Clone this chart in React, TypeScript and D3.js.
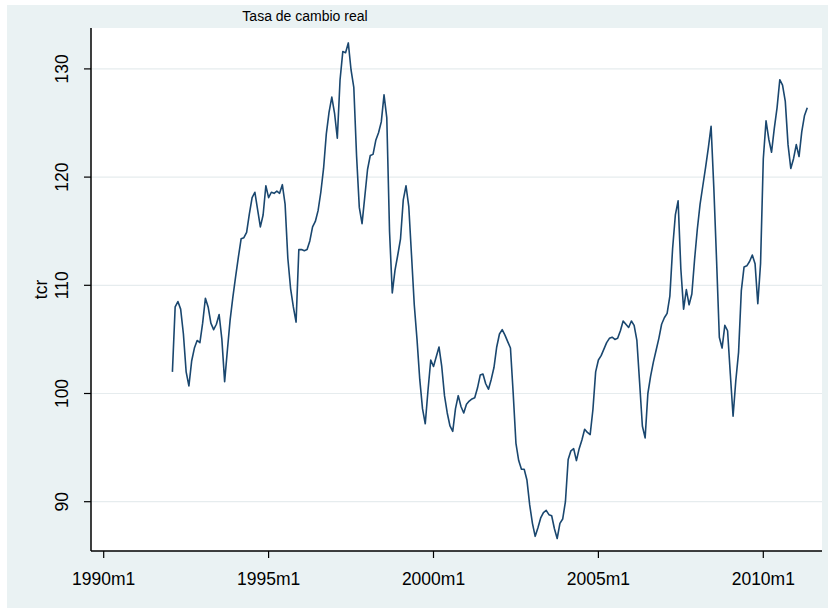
import React from "react";
import * as d3 from "d3";

// Monthly series "tcr" starting 1992m2 (months counted from 1990m1)
const startMonthIndex = 25;
const tcr: number[] = [
  102.0, 108.0, 108.5, 107.8, 105.5, 102.0, 100.7, 103.0, 104.2, 104.9,
  104.7, 106.5, 108.8, 108.0, 106.5, 105.9, 106.4, 107.3, 105.0, 101.1,
  104.0, 106.8, 108.9, 110.8, 112.6, 114.3, 114.4, 114.9, 116.6, 118.1,
  118.6, 117.0, 115.4, 116.5, 119.2, 118.1, 118.6, 118.5, 118.7, 118.5,
  119.3, 117.5, 112.5, 109.7, 108.0, 106.6, 113.3, 113.3, 113.2, 113.3,
  114.1, 115.4, 115.9, 116.9, 118.6, 120.8, 124.0, 126.0, 127.4, 125.9,
  123.6, 129.0, 131.6, 131.5, 132.4, 129.9, 128.3, 122.0, 117.2, 115.7,
  118.2, 120.7, 122.0, 122.1, 123.4, 124.1, 125.1, 127.6, 125.5, 115.0,
  109.3, 111.4, 112.8, 114.3, 117.9, 119.2, 117.3, 112.8, 108.2, 105.0,
  101.3, 98.6, 97.2, 100.3, 103.1, 102.5, 103.4, 104.3, 102.5, 99.8,
  98.2, 97.0, 96.5, 98.6, 99.8, 98.8, 98.2, 99.0, 99.3, 99.5,
  99.6, 100.5, 101.7, 101.8, 100.9, 100.4, 101.3, 102.4, 104.3, 105.5,
  105.9, 105.4, 104.8, 104.2, 100.0, 95.4, 93.8, 93.0, 93.0, 92.0,
  89.7, 88.0, 86.8, 87.6, 88.5, 89.0, 89.2, 88.8, 88.7, 87.5,
  86.6, 88.0, 88.4, 90.0, 93.9, 94.7, 94.9, 93.8, 94.9, 95.7,
  96.7, 96.4, 96.2, 98.5, 102.0, 103.1, 103.5, 104.1, 104.7, 105.1,
  105.2, 105.0, 105.1, 105.8, 106.7, 106.4, 106.1, 106.7, 106.3, 104.9,
  101.0, 97.0, 95.9, 100.0, 101.6, 102.9, 104.0, 105.1, 106.4, 107.0,
  107.4, 109.0, 113.4, 116.5, 117.8, 111.5, 107.8, 109.6, 108.2, 109.2,
  112.4, 115.2, 117.5, 119.2, 120.9, 122.7, 124.7, 119.0, 112.3, 105.2,
  104.2, 106.3, 105.8, 101.8, 97.9, 101.2, 103.8, 109.5, 111.7, 111.8,
  112.2, 112.8, 112.0, 108.3, 112.0, 121.7, 125.2, 123.5, 122.3, 124.5,
  126.4, 129.0, 128.5, 127.0, 123.0, 120.8, 121.7, 123.0, 121.9, 124.2,
  125.7, 126.4,
];

const xTickMonths = [0, 60, 120, 180, 240];
const xTickLabels = ["1990m1", "1995m1", "2000m1", "2005m1", "2010m1"];
const yTicks = [90, 100, 110, 120, 130];

const title = "Tasa de cambio real";
const yTitle = "tcr";

export default function App() {
  const W = 833;
  const H = 611;
  const plotL = 91;
  const plotR = 822;
  const plotT = 28;
  const plotB = 551;

  const x = d3.scaleLinear().domain([0, 240]).range([103.7, 763.3]);
  const y = d3.scaleLinear().domain([90, 130]).range([501.7, 68.9]);

  const pts = tcr.map((v, i) => ({ m: startMonthIndex + i, v }));
  const line = d3
    .line<{ m: number; v: number }>()
    .x((d) => x(d.m))
    .y((d) => y(d.v));

  const font = "'Liberation Sans', Arial, sans-serif";

  return (
    <div style={{ position: "absolute", left: 0, top: 0 }}>
      <svg width={W} height={H} style={{ display: "block" }}>
        <rect x={0} y={0} width={W} height={H} fill="#ffffff" />
        <rect x={7} y={5} width={821} height={603} fill="#eaf2f3" />
        <rect x={plotL} y={plotT} width={plotR - plotL} height={plotB - plotT} fill="#ffffff" />
        {yTicks.map((t) => (
          <line key={"g" + t} x1={plotL} x2={plotR} y1={y(t)} y2={y(t)} stroke="#e6ecee" strokeWidth={1.2} />
        ))}
        <path d={line(pts) || ""} fill="none" stroke="#1a476f" strokeWidth={1.6} strokeLinejoin="round" />
        <line x1={plotL} x2={plotL} y1={plotT} y2={plotB} stroke="#000" strokeWidth={1.5} />
        <line x1={plotL} x2={plotR} y1={plotB} y2={plotB} stroke="#000" strokeWidth={1.5} />
        {yTicks.map((t) => (
          <g key={"yt" + t}>
            <line x1={plotL - 7} x2={plotL} y1={y(t)} y2={y(t)} stroke="#000" strokeWidth={1.2} />
            <text
              transform={`translate(68,${y(t)}) rotate(-90)`}
              textAnchor="middle"
              fontFamily={font}
              fontSize={17.5}
              fill="#000"
            >
              {t}
            </text>
          </g>
        ))}
        {xTickMonths.map((m, i) => (
          <g key={"xt" + m}>
            <line x1={x(m)} x2={x(m)} y1={plotB} y2={plotB + 7} stroke="#000" strokeWidth={1.2} />
            <text x={x(m)} y={585} textAnchor="middle" fontFamily={font} fontSize={17.5} fill="#000">
              {xTickLabels[i]}
            </text>
          </g>
        ))}
        <text
          transform={`translate(47,${(plotT + plotB) / 2}) rotate(-90)`}
          textAnchor="middle"
          fontFamily={font}
          fontSize={17.5}
          fill="#000"
        >
          {yTitle}
        </text>
        <text x={305} y={21} textAnchor="middle" fontFamily={font} fontSize={14} fill="#000">
          {title}
        </text>
      </svg>
    </div>
  );
}
